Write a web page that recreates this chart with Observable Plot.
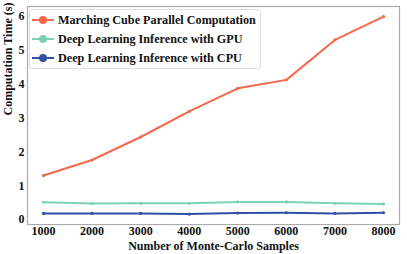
<!DOCTYPE html>
<html>
<head>
<meta charset="utf-8">
<script src="https://cdn.jsdelivr.net/npm/d3@7"></script>
<script src="https://cdn.jsdelivr.net/npm/@observablehq/plot@0.6"></script>
<style>
  body { margin: 0; background: #fff; }
  #wrap { position: relative; width: 407px; height: 254px; font-family: 'Liberation Serif'; }
  #legend { position: absolute; left: 29px; top: 9px; width: 232px; height: 60px;
    border: 1px solid #ddd; border-radius: 3px; background: rgba(255,255,255,0.85);
    font-family: 'Liberation Serif'; font-weight: bold; font-size: 12.2px; color: #111; box-sizing: border-box; }
  .row { position: absolute; left: 2px; height: 16px; display: flex; align-items: center; white-space: nowrap; }
  .row svg { margin-right: 4px; }
</style>
</head>
<body>
<div id="wrap"></div>
<script>
const samples = [1000, 2000, 3000, 4000, 5000, 6000, 7000, 8000];
const marching = [1.30, 1.76, 2.44, 3.20, 3.88, 4.13, 5.31, 6.00];
const gpu = [0.51, 0.47, 0.48, 0.48, 0.52, 0.52, 0.48, 0.46];
const cpu = [0.18, 0.18, 0.18, 0.16, 0.19, 0.20, 0.18, 0.20];
const seriesNames = ["Marching Cube Parallel Computation", "Deep Learning Inference with GPU", "Deep Learning Inference with CPU"];
const seriesColors = ["#f4694b", "#7dd0b6", "#3350a0"];
const yTicks = [0, 1, 2, 3, 4, 5, 6];
const xLabel = "Number of Monte-Carlo Samples";
const yLabel = "Computation Time (s)";
const FONT = "Liberation Serif";

const rows = [];
[marching, gpu, cpu].forEach((vals, i) => {
  vals.forEach((v, j) => rows.push({series: seriesNames[i], x: samples[j], y: v}));
});

const chart = Plot.plot({
  width: 407,
  height: 254,
  marginTop: 6,
  marginBottom: 30,
  marginLeft: 27,
  marginRight: 8,
  style: {fontFamily: FONT, fontWeight: "bold", fontSize: "12px", color: "#111", background: "#fff"},
  x: {domain: [671, 8329]},
  y: {domain: [-0.148, 6.30]},
  color: {domain: seriesNames, range: seriesColors},
  marks: [
    Plot.frame({stroke: "#aaa", strokeWidth: 1.2}),
    Plot.axisX({ticks: samples, tickSize: 0, tickPadding: 2, tickFormat: d => String(d), label: null, fontSize: 12, fontWeight: "bold", fontFamily: FONT}),
    Plot.axisY({ticks: yTicks, tickSize: 0, tickPadding: 3, tickFormat: d => String(d), label: null, fontSize: 12, fontWeight: "bold", fontFamily: FONT}),
    Plot.text([xLabel], {frameAnchor: "bottom", dy: 25, fontSize: 12, fontWeight: "bold", fontFamily: FONT}),
    Plot.text([yLabel], {frameAnchor: "left", rotate: -90, dx: -19, fontSize: 12, fontWeight: "bold", fontFamily: FONT}),
    Plot.line(rows, {x: "x", y: "y", z: "series", stroke: "series", strokeWidth: 2}),
    Plot.dot(rows, {x: "x", y: "y", fill: "series", r: 1.6})
  ]
});

const wrap = document.getElementById("wrap");
wrap.appendChild(chart);
const legend = document.createElement("div");
legend.id = "legend";
seriesNames.forEach((name, i) => {
  const row = document.createElement("div");
  row.className = "row";
  row.style.top = (2 + i * 19) + "px";
  row.innerHTML = `<svg width="22" height="10"><line x1="0" y1="5" x2="22" y2="5" stroke="${seriesColors[i]}" stroke-width="2"/><circle cx="11" cy="5" r="4" fill="${seriesColors[i]}"/></svg><span>${name}</span>`;
  legend.appendChild(row);
});
wrap.appendChild(legend);
</script>
</body>
</html>
